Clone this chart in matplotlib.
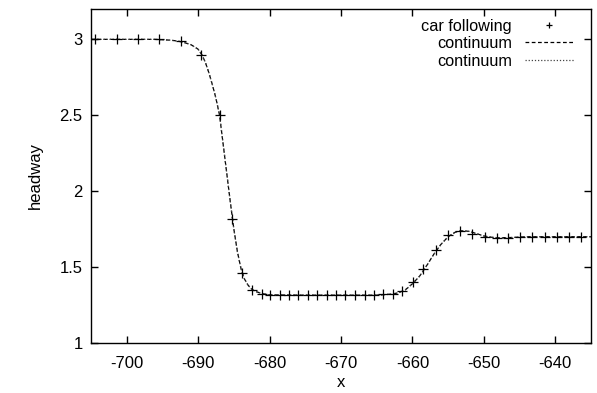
import matplotlib
matplotlib.use("Agg")
import matplotlib.pyplot as plt

plt.rcParams['font.family'] = ['Liberation Sans', 'DejaVu Sans']
plt.rcParams['font.size'] = 12

# car following (discrete vehicles): position x, headway
car_x = [-704.5, -701.4, -698.4, -695.5, -692.4, -689.6, -687.0, -685.2, -683.8,
         -682.4, -681.0, -679.9, -678.5, -677.3, -676.0, -674.6, -673.3, -672.0,
         -670.7, -669.4, -668.0, -666.7, -665.4, -664.1, -662.7, -661.4, -659.9,
         -658.5, -656.7, -655.0, -653.4, -651.6, -649.9, -648.2, -646.6, -644.9,
         -643.2, -641.5, -639.8, -638.1, -636.4]
car_h = [3.00, 3.00, 3.00, 3.00, 2.99, 2.90, 2.50, 1.82, 1.46,
         1.35, 1.32, 1.315, 1.315, 1.315, 1.315, 1.315, 1.315, 1.315,
         1.315, 1.315, 1.315, 1.315, 1.315, 1.32, 1.32, 1.34, 1.40,
         1.49, 1.61, 1.71, 1.74, 1.72, 1.70, 1.69, 1.69, 1.70,
         1.70, 1.70, 1.70, 1.70, 1.70]

# continuum solution
cont_x = [-705, -700, -696, -694, -693, -692, -691, -690, -689.5, -689, -688.5,
          -688, -687.5, -687, -686.5, -686, -685.5, -685, -684.5, -684, -683.5,
          -683, -682.5, -682, -681, -680, -675, -670, -665, -664, -663, -662,
          -661, -660, -659, -658, -657, -656, -655, -654, -653, -652, -651,
          -650, -649, -648, -646, -644, -640, -635]
cont_h = [3.00, 3.00, 3.00, 2.995, 2.99, 2.98, 2.965, 2.935, 2.90, 2.85, 2.78,
          2.70, 2.61, 2.50, 2.31, 2.12, 1.93, 1.75, 1.60, 1.49, 1.42,
          1.38, 1.355, 1.34, 1.325, 1.317, 1.315, 1.315, 1.315, 1.318, 1.322, 1.33,
          1.35, 1.39, 1.44, 1.51, 1.585, 1.65, 1.70, 1.73, 1.74, 1.735, 1.72,
          1.705, 1.697, 1.693, 1.695, 1.70, 1.70, 1.70]

x_ticks = [-700, -690, -680, -670, -660, -650, -640]
y_ticks = [1, 1.5, 2, 2.5, 3]

fig = plt.figure(figsize=(5.97, 3.93), dpi=100)
ax = fig.add_axes([91/597, 1-343/393, (591-91)/597, (343-9)/393])

ax.plot(cont_x, cont_h, color='black', lw=0.9, dashes=(3, 2), label='continuum', zorder=2)
ax.plot(cont_x, cont_h, color='#444444', lw=0.9, dashes=(1, 1.5), label='continuum ', zorder=2)
ax.plot(car_x, car_h, linestyle='none', marker='+', color='black', ms=7, mew=0.9,
        label='car following', zorder=3)

ax.set_xlim(-705, -635)
ax.set_ylim(1, 3.2)
ax.set_xticks(x_ticks)
ax.set_xticklabels([str(v) for v in x_ticks])
ax.set_yticks(y_ticks)
ax.set_yticklabels(['1', '1.5', '2', '2.5', '3'])
ax.tick_params(direction='in', top=True, right=True, length=5, width=1, labelsize=12)
ax.tick_params(axis='x', pad=9)
ax.tick_params(axis='y', pad=6)
for s in ax.spines.values():
    s.set_linewidth(1)

ax.set_xlabel('x', fontsize=12, labelpad=3)
ax.set_ylabel('headway', fontsize=12, labelpad=12)

h, l = ax.get_legend_handles_labels()
order = [2, 0, 1]
leg = ax.legend([h[i] for i in order], ['car following', 'continuum', 'continuum'],
                loc='upper right', frameon=False, markerfirst=False, alignment='right',
                handlelength=3.0, handletextpad=0.8, labelspacing=0.15,
                fontsize=11.7, borderaxespad=0.2, bbox_to_anchor=(0.985, 1.0))
for lh in leg.legend_handles:
    if lh.get_marker() == '+':
        lh.set_markersize(5)

fig.savefig('out.png', dpi=100)
